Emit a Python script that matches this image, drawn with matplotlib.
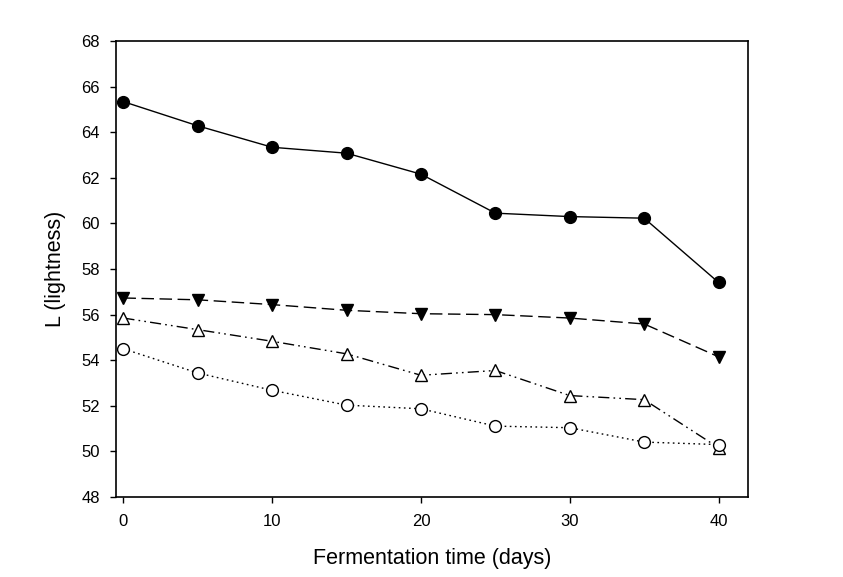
import matplotlib
matplotlib.use('Agg')
import matplotlib.pyplot as plt

plt.rcParams['font.family'] = ['Liberation Sans', 'DejaVu Sans']

days = [0, 5, 10, 15, 20, 25, 30, 35, 40]
filled_circle = [65.34, 64.28, 63.34, 63.08, 62.16, 60.45, 60.30, 60.23, 57.41]
filled_tri_down = [56.73, 56.65, 56.44, 56.19, 56.04, 56.00, 55.85, 55.59, 54.15]
open_tri_up = [55.85, 55.34, 54.83, 54.28, 53.34, 53.55, 52.45, 52.27, 50.16]
open_circle = [54.50, 53.44, 52.68, 52.03, 51.87, 51.11, 51.04, 50.41, 50.30]

fig = plt.figure(figsize=(8.43, 5.77), dpi=100)
ax = fig.add_axes([0.1376, 0.1386, 0.7501, 0.7903])

ax.plot(days, filled_circle, color='black', lw=1.0, ls='-',
        marker='o', ms=8.5, mfc='black', mec='black')
ax.plot(days, filled_tri_down, color='black', lw=1.0, dashes=(9, 4),
        marker='v', ms=8.5, mfc='black', mec='black')
ax.plot(days, open_tri_up, color='black', lw=1.0, dashes=(8, 3, 1.2, 3, 1.2, 3),
        marker='^', ms=8.5, mfc='white', mec='black', mew=1.0)
ax.plot(days, open_circle, color='black', lw=1.0, dashes=(1.2, 2.5),
        marker='o', ms=8.5, mfc='white', mec='black', mew=1.0)

ax.set_xlim(-0.5, 42)
ax.set_ylim(48, 68)
ax.set_xticks([0, 10, 20, 30, 40])
ax.set_yticks(range(48, 69, 2))
ax.tick_params(direction='out', length=4.5, width=1, labelsize=12)
ax.tick_params(axis='x', pad=7.5)
ax.tick_params(axis='y', pad=7)
for s in ax.spines.values():
    s.set_linewidth(1.2)

ax.set_xlabel('Fermentation time (days)', fontsize=15.5)
ax.set_ylabel('L (lightness)', fontsize=15.5)
ax.xaxis.set_label_coords(0.5, -0.112)
ax.yaxis.set_label_coords(-0.079, 0.5)

fig.savefig('out.png', dpi=100)
